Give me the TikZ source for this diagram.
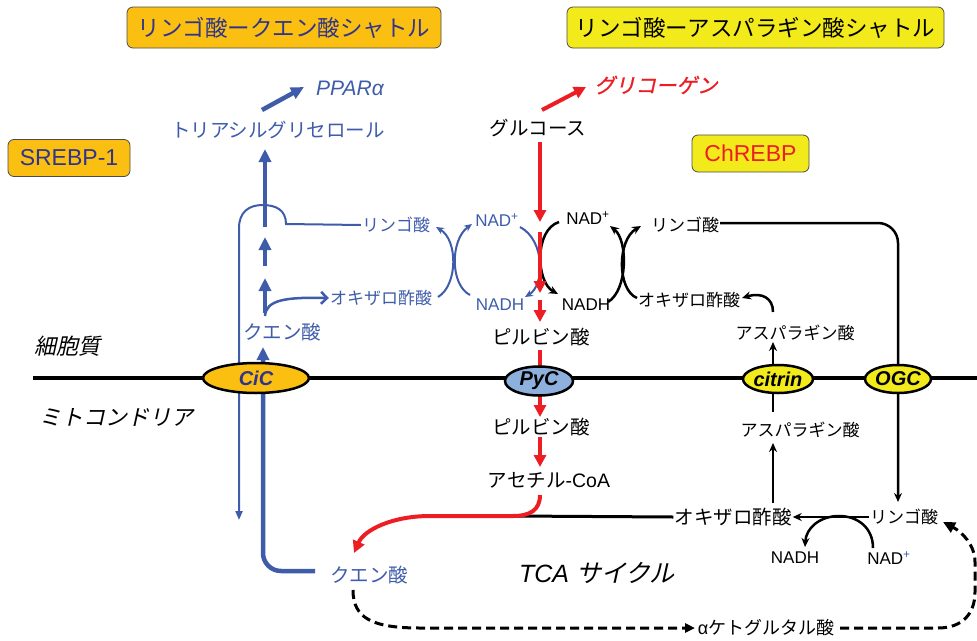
\documentclass[tikz,border=0pt]{standalone}
\usepackage{fontspec}
\setmainfont{Liberation Sans}
\newfontfamily\jp{Noto Sans CJK JP}
\newfontfamily\jpit[FakeSlant=0.22]{Noto Sans CJK JP}
\newfontfamily\jpitb[FakeSlant=0.22,FakeBold=1.2]{Noto Sans CJK JP}
\usetikzlibrary{arrows.meta,shapes.geometric}
\newcommand\fsz[1]{\fontsize{#1}{#1}\selectfont}
\definecolor{cblue}{RGB}{62,92,170}
\definecolor{cnavy}{RGB}{48,52,140}
\definecolor{corange}{RGB}{251,191,18}
\definecolor{cyellow}{RGB}{242,234,26}
\definecolor{cred}{RGB}{236,30,36}
\definecolor{cpyc}{RGB}{141,176,221}
\tikzset{
 hdr/.style={draw=black!70, line width=0.8pt, rounded corners=6pt, inner sep=0pt},
 jl/.style={inner sep=1pt, font=\jp\fsz{19.5}},
 js/.style={inner sep=1pt, font=\jp\fsz{17}},
 lat/.style={inner sep=1pt, font=\fsz{17}},
 itl/.style={inner sep=1pt, font=\jpit\fsz{22}},
 mem/.style={ellipse, draw=black, line width=2.5pt, inner sep=0pt},
 memtxt/.style={inner sep=0pt, font=\bfseries\itshape\fsz{20}},
 bthick/.style={cblue, line width=4.5pt, -{Triangle[length=13pt,width=12pt]}},
 bthin/.style={cblue, line width=2pt},
 barc/.style={cblue, line width=2pt, -{Stealth[length=8pt,width=7pt]}},
 karc/.style={black, line width=2.5pt, -{Stealth[length=9pt,width=8pt]}},
 kline/.style={black, line width=2.5pt},
 rarr/.style={cred, line width=4pt, -{Triangle[length=12pt,width=12pt]}},
 dsh/.style={black, line width=3pt, dash pattern=on 9pt off 5pt},
}
\begin{document}
\begin{tikzpicture}[x=1pt, y=-1pt]
\useasboundingbox (0,0) rectangle (977,640);
% boxes
\node[hdr, fill=corange, minimum width=314pt, minimum height=41pt, font=\jp\fsz{22.5}, text=cnavy] (h1) at (284,27.5) {リンゴ酸ークエン酸シャトル};
\node[hdr, fill=cyellow, minimum width=377pt, minimum height=41pt, font=\jp\fsz{22.5}] (h2) at (755.5,27.5) {リンゴ酸ーアスパラギン酸シャトル};
\node[hdr, fill=corange, minimum width=122pt, minimum height=37pt, font=\fsz{23}, text=cnavy] (srebp) at (69,158) {SREBP-1};
\node[hdr, fill=cyellow, minimum width=117pt, minimum height=37pt, font=\fsz{23}, text=cred] (chrebp) at (750.5,153.5) {ChREBP};
% labels
\node[font=\itshape\fsz{21}, text=cblue, inner sep=1pt] (ppar) at (350,88) {PPARα};
\node[jl, text=cblue] (tag) at (278,130) {トリアシルグリセロール};
\node[jl] (glc) at (538,128) {グルコース};
\node[font=\jpitb\fsz{20.5}, text=cred, inner sep=1pt] (glyc) at (656,85) {グリコーゲン};
\node[js, text=cblue] (bmal) at (396,225) {リンゴ酸};
\node[js, text=cblue] (boaa) at (381,298) {オキザロ酢酸};
\node[lat, text=cblue] (bnadp) at (497,220) {NAD\textsuperscript{+}};
\node[lat, text=cblue] (bnadh) at (500,305) {NADH};
\node[lat] (knadp) at (588,218) {NAD\textsuperscript{+}};
\node[lat] (knadh) at (586,305) {NADH};
\node[js] (kmal) at (685,225) {リンゴ酸};
\node[js] (koaa) at (689,300) {オキザロ酢酸};
\node[js] (kasp) at (795,333) {アスパラギン酸};
\node[jl, text=cblue] (cit1) at (282,332) {クエン酸};
\node[jl] (pyr1) at (541,337) {ピルビン酸};
\node[itl] (cyto) at (67,346) {細胞質};
\node[itl] (mitol) at (116,417) {ミトコンドリア};
\node[jl] (pyr2) at (541,427) {ピルビン酸};
\node[inner sep=1pt, font=\fsz{19.5}] (acoa) at (549,480) {{\jp アセチル}-CoA};
\node[js] (masp) at (800,430) {アスパラギン酸};
\node[jl] (moaa) at (733,517) {オキザロ酢酸};
\node[js] (mmal) at (904,517) {リンゴ酸};
\node[lat] (mnadh) at (795,558) {NADH};
\node[lat] (mnadp) at (889,558) {NAD\textsuperscript{\color{cblue}+}};
\node[jl, text=cblue] (cit2) at (369,575) {クエン酸};
\node[inner sep=1pt, font=\itshape\fsz{25}] (tca) at (597,573) {TCA {\upshape\jpit サイクル}};
\node[inner sep=1pt, font=\fsz{18}] (akg) at (766,628) {α{\jp ケトグルタル酸}};
% membrane
\draw[line width=4.5pt] (33,378) -- (977,378);
% blue thick path
\coordinate (cA) at (263,347);
\coordinate (cB) at (315,571);
\draw[bthick, rounded corners=18pt] (cB) -- (263,571) -- (cA);
\draw[bthick] (265,313) -- (265,278);
\draw[cblue, line width=2.5pt, -{Straight Barb[length=6pt,width=12pt]}] (265,316) .. controls (266,300) and (285,297) .. (boaa.west);
\draw[bthick] (265,266) -- (265,237);
\draw[bthick] (265,227) -- (265,149);
\draw[bthick] (262,110) -- (304,87);
% thin blue malate into mitochondria
\draw[bthin, -{Triangle[length=9pt,width=7pt]}] (bmal.west) -- (286,224) .. controls (286,210) and (276,205) .. (262.5,205) .. controls (249,205) and (239,212) .. (239,228) -- (239,520);
% blue arcs
\draw[barc] (438,297) .. controls (458,285) and (458,240) .. (436,227);
\draw[barc] (470,295) .. controls (450,285) and (450,240) .. (472,224);
\draw[barc] (520,227) .. controls (545,240) and (545,285) .. (525,297);
% black arcs
\draw[karc] (559,222) .. controls (534,230) and (536,282) .. (558,294);
\draw[karc] (608,302) .. controls (628,290) and (628,240) .. (610,226);
\draw[karc] (637,298) .. controls (617,290) and (617,240) .. (641,226);
\draw[karc] (773,312) .. controls (773,298) and (762,292) .. (742,298);
\draw[karc] (773,365) -- (773,342);
\draw[kline] (773,393) -- (773,412);
\draw[karc] (773,503) -- (773,443);
\draw[karc, rounded corners=20pt] (kmal.east) ++(0,-2) -- (898,223) -- (898,502);
\draw[karc] (mmal.west) -- (moaa.east);
\draw[karc] (873,548) .. controls (873,528) and (858,516) .. (839,516) .. controls (820,516) and (806,528) .. (805,547);
\draw[line width=3pt] (513,516) -- (moaa.west);
% red
\draw[rarr] (540,142) -- (540,222);
\draw[rarr] (540,232) -- (540,293);
\draw[rarr] (540,300) -- (540,322);
\draw[cred, line width=4pt] (540,350) -- (540,370);
\draw[rarr] (540,394) -- (540,417);
\draw[rarr] (540,437) -- (540,467);
\draw[rarr] (540,495) .. controls (540,510) and (530,516) .. (513,516) -- (430,516) .. controls (392,516) and (364,530) .. (354,553);
\draw[rarr] (542,110) -- (586,87);
% dashed
\draw[dsh, -{Triangle[length=10pt,width=9pt]}] (353,590) .. controls (353,618) and (372,628) .. (420,628) -- (695,628);
\draw[dsh, -{Triangle[length=12pt,width=11pt]}] (840,628) -- (938,628) .. controls (962,628) and (975,614) .. (975,592) -- (975,562) .. controls (975,545) and (962,532) .. (943,522);
% transporters
\node[mem, fill=corange, minimum width=106pt, minimum height=30pt] (cic) at (256,378) {};
\node[memtxt, text=cnavy] at (cic) {CiC};
\node[mem, fill=cpyc, minimum width=68pt, minimum height=29pt] (pyc) at (539,381) {};
\node[memtxt] at (pyc) {PyC};
\node[mem, fill=cyellow, minimum width=70pt, minimum height=28pt] (citrin) at (778,379) {};
\node[memtxt] at (citrin) {citrin};
\node[mem, fill=cyellow, minimum width=66pt, minimum height=28pt] (ogc) at (898,379) {};
\node[memtxt] at (ogc) {OGC};
\end{tikzpicture}
\end{document}
